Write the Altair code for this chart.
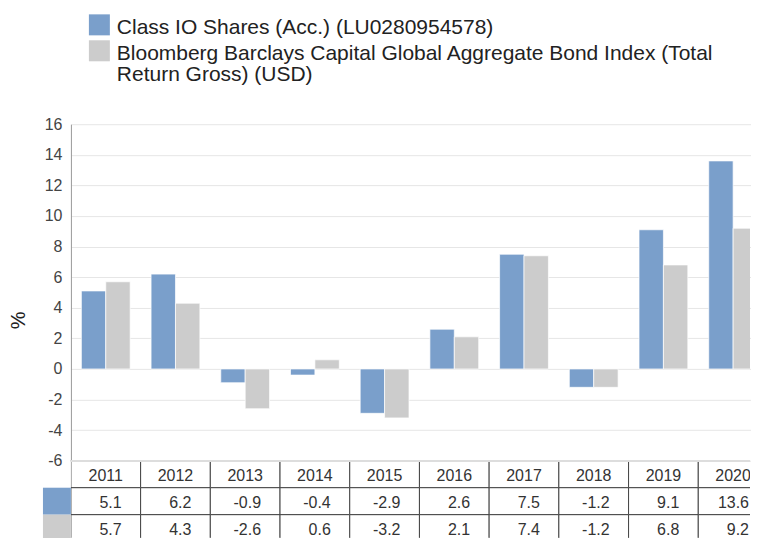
import altair as alt
import pandas as pd

years = ["2011", "2012", "2013", "2014", "2015", "2016", "2017", "2018", "2019", "2020"]
fund = [5.1, 6.2, -0.9, -0.4, -2.9, 2.6, 7.5, -1.2, 9.1, 13.6]
bench = [5.7, 4.3, -2.6, 0.6, -3.2, 2.1, 7.4, -1.2, 6.8, 9.2]
series_keys = ["fund", "bench"]
legend_labels = [
    "Class IO Shares (Acc.) (LU0280954578)",
    "Bloomberg Barclays Capital Global Aggregate Bond Index (Total\nReturn Gross) (USD)",
]
colors = ["#7A9FCB", "#CCCCCC"]
y_ticks = [-6, -4, -2, 0, 2, 4, 6, 8, 10, 12, 14, 16]
table_rows = ["year", "fund", "bench"]

FONT = "Liberation Sans"
W = 680          # visible plot width (page edge clips the last column)
XR = [0, 698]    # full band range, 10 columns
color_scale = alt.Scale(domain=series_keys, range=colors)

# ---------- legend ----------
leg_df = pd.DataFrame({"series": series_keys, "label": legend_labels})
leg_y = alt.Y("series:N", sort=series_keys, axis=None,
              scale=alt.Scale(domain=series_keys, paddingInner=0.19, paddingOuter=0, range=[6, 53]))
leg_sw = alt.Chart(leg_df).mark_rect().encode(
    x=alt.value(18), x2=alt.value(39), y=leg_y,
    color=alt.Color("series:N", scale=color_scale, legend=None),
)
leg_tx = alt.Chart(leg_df).mark_text(
    align="left", baseline="alphabetic", dy=9, fontSize=21, lineBreak="\n",
    lineHeight=21, font=FONT, color="#222", clip=True,
).encode(x=alt.value(46), y=leg_y, text="label:N")
legend = alt.layer(leg_sw, leg_tx).properties(width=W, height=116)

# ---------- bars ----------
bar_df = pd.DataFrame({
    "year": years * 2,
    "series": ["fund"] * len(years) + ["bench"] * len(years),
    "value": fund + bench,
})
bars = alt.Chart(bar_df).mark_bar(stroke="white", strokeWidth=1, strokeOpacity=0.7, clip=True).encode(
    x=alt.X("year:N", sort=years, axis=None,
            scale=alt.Scale(domain=years, paddingInner=0.3, paddingOuter=0.15, range=XR)),
    xOffset=alt.XOffset("series:N", sort=series_keys,
                        scale=alt.Scale(domain=series_keys, paddingInner=0, paddingOuter=0)),
    y=alt.Y("value:Q", scale=alt.Scale(domain=[-6, 16], nice=False),
            axis=alt.Axis(values=y_ticks, title="%", tickSize=0, labelPadding=9,
                          labelExpr="'' + datum.value",
                          labelFontSize=16, labelColor="#444", labelFont=FONT,
                          titleFontSize=20, titleFont=FONT, titleFontWeight="normal",
                          titleColor="#222", titlePadding=16, titleY=196,
                          domainColor="#999", gridColor="#e6e6e6")),
    color=alt.Color("series:N", scale=color_scale, legend=None),
).properties(width=W, height=337)

# ---------- table ----------
recs = []
for i, y in enumerate(years):
    recs.append({"year": y, "row": "year", "txt": y})
    recs.append({"year": y, "row": "fund", "txt": f"{fund[i]:.1f}"})
    recs.append({"year": y, "row": "bench", "txt": f"{bench[i]:.1f}"})
tab_df = pd.DataFrame(recs)
tx = alt.X("year:N", sort=years, axis=None,
           scale=alt.Scale(domain=years, paddingInner=0, paddingOuter=0, range=XR))
ty = alt.Y("row:N", sort=table_rows, axis=None,
           scale=alt.Scale(domain=table_rows, paddingInner=0, paddingOuter=0, range=[0, 81]))
cells = alt.Chart(tab_df).mark_rect(fill="white", stroke="#444", strokeWidth=1, clip=True).encode(x=tx, y=ty)
head = alt.Chart(tab_df).transform_filter(alt.datum.row == "year").mark_text(
    align="center", baseline="middle", dy=2, fontSize=16, font=FONT, color="#333", clip=True
).encode(x=tx, y=ty, text="txt:N")
vals = alt.Chart(tab_df).transform_filter(alt.datum.row != "year").mark_text(
    align="right", baseline="middle", dx=-19, dy=2, fontSize=16, font=FONT, color="#333", clip=True
).encode(
    x=alt.X("year:N", sort=years, axis=None, bandPosition=1,
            scale=alt.Scale(domain=years, paddingInner=0, paddingOuter=0, range=XR)),
    y=ty, text="txt:N")
sw_df = pd.DataFrame({"row": series_keys, "series": series_keys})
tab_sw = alt.Chart(sw_df).mark_rect(stroke="#444", strokeWidth=1, strokeOpacity=0.0).encode(
    x=alt.value(-28), x2=alt.value(0), y=ty,
    color=alt.Color("series:N", scale=color_scale, legend=None),
)
top_line = alt.Chart(tab_df).mark_rule(color="#dddddd", strokeWidth=1.5).encode(y=alt.value(0))
table = alt.layer(cells, tab_sw, head, vals, top_line).properties(width=W, height=77)

chart = alt.vconcat(legend, bars, table, spacing=0, bounds="flush").properties(
    padding={"left": 0, "top": 0, "right": 0, "bottom": 0}
).configure(font=FONT).configure_view(stroke=None).resolve_scale(color="shared")

chart.save("out.html", embed_options={"renderer": "svg", "actions": False})
